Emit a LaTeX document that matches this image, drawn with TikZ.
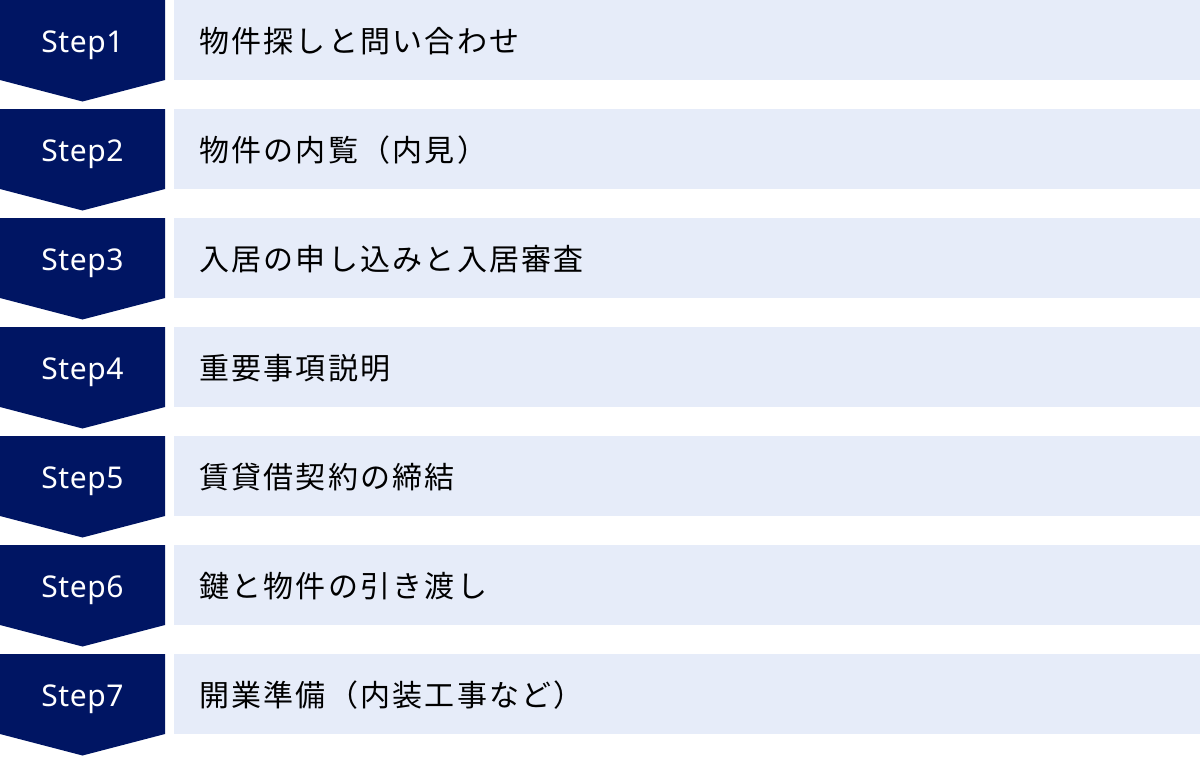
\documentclass[tikz,border=0pt]{standalone}
\usepackage{fontspec}
\setmainfont{Noto Sans CJK JP}[LetterSpace=7.5]
\newfontfamily\stepfont{Noto Sans}[LetterSpace=2]
\definecolor{navy}{RGB}{0,21,99}
\definecolor{pale}{RGB}{230,236,249}
\tikzset{
  stepbox/.style={fill=navy},
  bar/.style={fill=pale},
  steplabel/.style={anchor=base,text=white,inner sep=0pt,font=\stepfont\fontsize{30}{34}\selectfont},
  itemlabel/.style={anchor=base west,inner sep=0pt,font=\fontsize{30}{34}\selectfont}
}
\begin{document}
\begin{tikzpicture}[x=1pt,y=-1pt]
        \useasboundingbox (0,0) rectangle (1200,756);
        % chevrons and bars
        \fill[stepbox] (0,0) -- (165,0) -- (165,80) -- (82.5,101.5) -- (0,80) -- cycle;
        \fill[bar] (174,0) rectangle (1200,80);
        \fill[stepbox] (0,109) -- (165,109) -- (165,189) -- (82.5,210.5) -- (0,189) -- cycle;
        \fill[bar] (174,109) rectangle (1200,189);
        \fill[stepbox] (0,218) -- (165,218) -- (165,298) -- (82.5,319.5) -- (0,298) -- cycle;
        \fill[bar] (174,218) rectangle (1200,298);
        \fill[stepbox] (0,327) -- (165,327) -- (165,407) -- (82.5,428.5) -- (0,407) -- cycle;
        \fill[bar] (174,327) rectangle (1200,407);
        \fill[stepbox] (0,436) -- (165,436) -- (165,516) -- (82.5,537.5) -- (0,516) -- cycle;
        \fill[bar] (174,436) rectangle (1200,516);
        \fill[stepbox] (0,545) -- (165,545) -- (165,625) -- (82.5,646.5) -- (0,625) -- cycle;
        \fill[bar] (174,545) rectangle (1200,625);
        \fill[stepbox] (0,654) -- (165,654) -- (165,734) -- (82.5,755.5) -- (0,734) -- cycle;
        \fill[bar] (174,654) rectangle (1200,734);
        % labels
        \node[steplabel] (S1) at (82.5,52) {Step1};
        \node[itemlabel] (T1) at (199,52) {物件探しと問い合わせ};
        \node[steplabel] (S2) at (82.5,161) {Step2};
        \node[itemlabel] (T2) at (199,161) {物件の内覧（内見）};
        \node[steplabel] (S3) at (82.5,270) {Step3};
        \node[itemlabel] (T3) at (199,270) {入居の申し込みと入居審査};
        \node[steplabel] (S4) at (82.5,379) {Step4};
        \node[itemlabel] (T4) at (199,379) {重要事項説明};
        \node[steplabel] (S5) at (82.5,488) {Step5};
        \node[itemlabel] (T5) at (199,488) {賃貸借契約の締結};
        \node[steplabel] (S6) at (82.5,597) {Step6};
        \node[itemlabel] (T6) at (199,597) {鍵と物件の引き渡し};
        \node[steplabel] (S7) at (82.5,706) {Step7};
        \node[itemlabel] (T7) at (199,706) {開業準備（内装工事など）};
      \end{tikzpicture}
\end{document}
